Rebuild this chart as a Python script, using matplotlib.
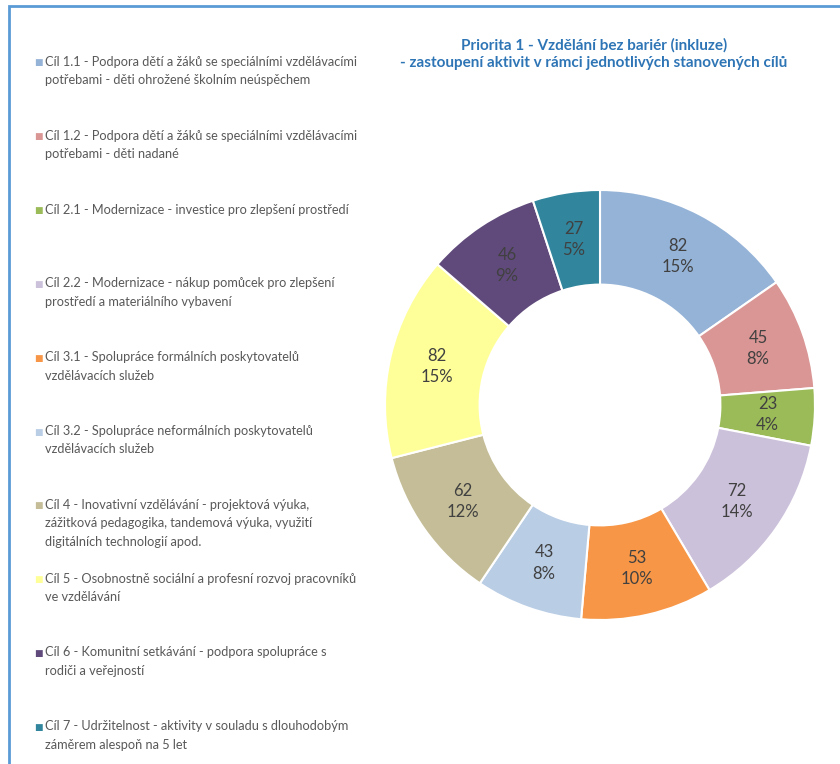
import numpy as np
import matplotlib.pyplot as plt
from matplotlib.patches import Rectangle

plt.rcParams['font.family'] = ['Lato', 'DejaVu Sans']

# data
goals = ['Cíl 1.1 - Podpora dětí a žáků se speciálními vzdělávacími\npotřebami - děti ohrožené školním neúspěchem',
         'Cíl 1.2 - Podpora dětí a žáků se speciálními vzdělávacími\npotřebami - děti nadané',
         'Cíl 2.1 - Modernizace - investice pro zlepšení prostředí',
         'Cíl 2.2 - Modernizace - nákup pomůcek pro zlepšení\nprostředí a materiálního vybavení',
         'Cíl 3.1 - Spolupráce formálních poskytovatelů\nvzdělávacích služeb',
         'Cíl 3.2 - Spolupráce neformálních poskytovatelů\nvzdělávacích služeb',
         'Cíl 4 - Inovativní vzdělávání - projektová výuka,\nzážitková pedagogika, tandemová výuka, využití\ndigitálních technologií apod.',
         'Cíl 5 - Osobnostně sociální a profesní rozvoj pracovníků\nve vzdělávání',
         'Cíl 6 - Komunitní setkávání - podpora spolupráce s\nrodiči a veřejností',
         'Cíl 7 - Udržitelnost - aktivity v souladu s dlouhodobým\nzáměrem alespoň na 5 let']
counts = [82, 45, 23, 72, 53, 43, 62, 82, 46, 27]
pct_labels = [15, 8, 4, 14, 10, 8, 12, 15, 9, 5]
colors = ['#95B3D7', '#D99694', '#9BBB59', '#CCC1DA', '#F79646',
          '#B9CDE5', '#C4BD97', '#FFFF99', '#604A7B', '#31859C']

title = 'Priorita 1 - Vzdělání bez bariér (inkluze)\n- zastoupení aktivit v rámci jednotlivých stanovených cílů'

W, H = 840, 764
fig = plt.figure(figsize=(W / 100, H / 100), dpi=100)

# blue frame (cut off at right/bottom like the screenshot)
fig.patches.append(Rectangle((9 / W, -0.1), 1.2, 1.1 - 6 / H, transform=fig.transFigure,
                             fill=False, edgecolor='#5B9BD5', linewidth=2))

# donut
cx, cy, R = 600, 405, 215
ax = fig.add_axes([(cx - R) / W, (H - cy - R) / H, 2 * R / W, 2 * R / H])
wedges, _ = ax.pie(counts, colors=colors, startangle=90, counterclock=False,
                   radius=1, wedgeprops=dict(width=0.44, edgecolor='white', linewidth=1.5))
ax.set_xlim(-1, 1)
ax.set_ylim(-1, 1)
ax.set_aspect('auto')
ax.axis('off')

for w, n, p in zip(wedges, counts, pct_labels):
    ang = np.radians((w.theta1 + w.theta2) / 2)
    r = 0.78
    ax.text(r * np.cos(ang), r * np.sin(ang), '%d\n%d%%' % (n, p), ha='center', va='center',
            fontsize=12, color='#404040', linespacing=1.4)

fig.text(594 / W, 1 - 54 / H, title, ha='center', va='center', fontsize=11,
         fontweight='bold', color='#2E75B6', linespacing=1.35)

# legend on the left
for i, (lab, c) in enumerate(zip(goals, colors)):
    y = 63 + i * 73.8
    fig.text(34 / W, 1 - y / H, '■', color=c, fontsize=6.5, va='center', ha='left')
    fig.text(45 / W, 1 - (y - 7) / H, lab, color='#595959', fontsize=9.2, va='top', ha='left',
             linespacing=1.65)

fig.savefig('out.png', dpi=100)
